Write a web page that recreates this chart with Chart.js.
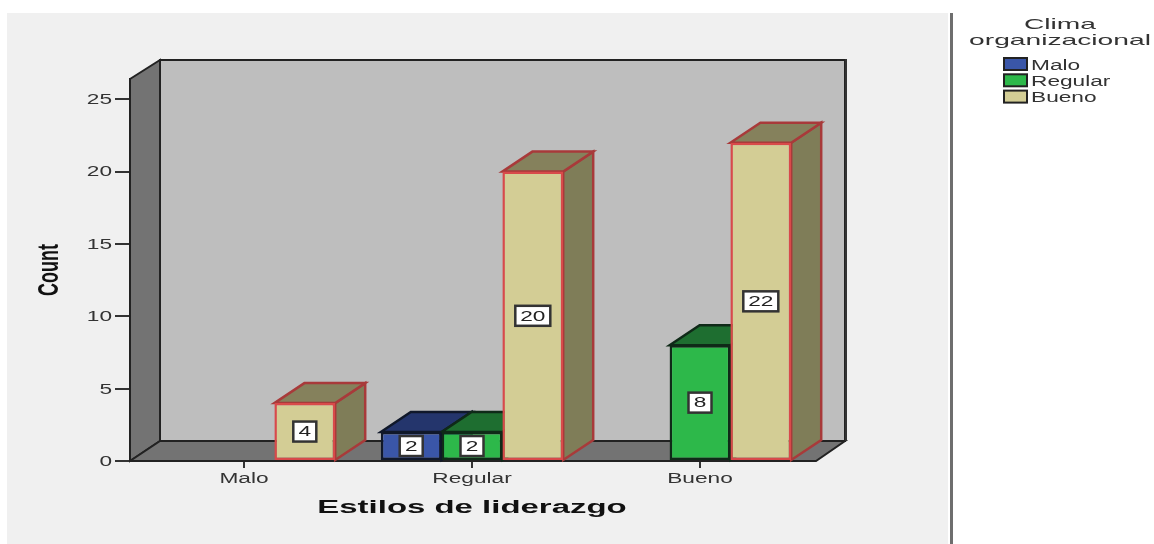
<!DOCTYPE html>
<html>
<head>
<meta charset="utf-8">
<style>html,body{margin:0;padding:0;background:#fff}canvas{display:block}</style>
<script src="https://cdn.jsdelivr.net/npm/chart.js@4/dist/chart.umd.min.js"></script>
</head>
<body>
<canvas id="c" width="1154" height="544"></canvas>
<script>
const categories = ["Malo", "Regular", "Bueno"];
const seriesNames = ["Malo", "Regular", "Bueno"];
const malo = [null, 2, null];
const regular = [null, 2, 8];
const bueno = [4, 20, 22];
const yTitle = "Count";
const xTitle = "Estilos de liderazgo";
const legendTitle = ["Clima", "organizacional"];

const FONT = '"Liberation Sans"';
const front = ["#3a56a8", "#2db84a", "#d3cd95"];
const topFace = ["#24356c", "#1e6e30", "#85815c"];
const sideFace = ["#24356c", "#1e6e30", "#7f7d58"];
const edgeFront = ["#10182a", "#0f2a18", "#d84a4a"];
const edgeBack = ["#10182a", "#0f2a18", "#a83a3a"];
const DX = 30, DY = 20;
// horizontal stretch per font size: the reference text is widened
const STRETCH = {14: 1.62, 15: 1.88, 18: 1.83, 30: 0.6};

function poly(ctx, pts, fill, stroke, lw) {
  ctx.beginPath();
  pts.forEach((p, i) => i ? ctx.lineTo(p[0], p[1]) : ctx.moveTo(p[0], p[1]));
  ctx.closePath();
  if (fill) { ctx.fillStyle = fill; ctx.fill(); }
  if (stroke) { ctx.strokeStyle = stroke; ctx.lineWidth = lw || 2; ctx.lineJoin = "miter"; ctx.stroke(); }
}

const scene = {
  id: "scene",
  beforeInit(chart) {
    const ctx = chart.ctx, orig = ctx.fillText.bind(ctx);
    ctx.fillText = function (t, x, y, m) {
      const size = parseInt((ctx.font.match(/(\d+)px/) || [])[1]);
      const s = STRETCH[size];
      if (!s) return orig(t, x, y, m);
      ctx.save(); ctx.translate(x, y + (size === 30 ? 0 : 1)); ctx.scale(s, 1); orig(t, 0, 0); ctx.restore();
    };
  },
  beforeDraw(chart) {
    const ctx = chart.ctx, a = chart.chartArea;
    ctx.save();
    ctx.fillStyle = "#f0f0f0"; ctx.fillRect(7, 13, 941, 531);
    ctx.fillStyle = "#6e6e6e"; ctx.fillRect(950, 13, 3, 531);
    const L = a.left, R = a.right + 2, T = a.top, B = a.bottom;
    poly(ctx, [[L + DX, T - DY + 1], [R + DX - 1, T - DY + 1], [R + DX - 1, B - DY], [L + DX, B - DY]], "#bebebe", "#222", 2);
    poly(ctx, [[L, T], [L + DX, T - DY + 1], [L + DX, B - DY], [L, B]], "#737373", "#222", 2);
    poly(ctx, [[L, B], [L + DX, B - DY], [R + DX - 1, B - DY], [R, B]], "#737373", "#222", 2);
    ctx.fillStyle = "#333"; ctx.fillRect(R + DX - 1, T - DY, 2, B - T);
    ctx.restore();
  },
  beforeDatasetsDraw(chart) {
    const ctx = chart.ctx;
    ctx.save();
    chart.data.datasets.forEach((ds, i) => {
      chart.getDatasetMeta(i).data.forEach((el, j) => {
        if (ds.data[j] == null) return;
        const l = el.x - el.width / 2, r = el.x + el.width / 2, t = el.y, b = el.base;
        poly(ctx, [[r, t], [r + DX, t - DY], [r + DX, b - DY], [r, b]], sideFace[i], edgeBack[i], 2.5);
        poly(ctx, [[l, t], [l + DX, t - DY], [r + DX, t - DY], [r, t]], topFace[i], edgeBack[i], 2.5);
      });
    });
    ctx.restore();
  },
  afterDatasetsDraw(chart) {
    const ctx = chart.ctx;
    ctx.save();
    chart.data.datasets.forEach((ds, i) => {
      chart.getDatasetMeta(i).data.forEach((el, j) => {
        const v = ds.data[j];
        if (v == null) return;
        const txt = String(v), w = txt.length > 1 ? 35 : 23, h = 20;
        const cy = (el.y + el.base) / 2;
        ctx.fillStyle = "#fff"; ctx.strokeStyle = "#333"; ctx.lineWidth = 2.5;
        ctx.fillRect(el.x - w / 2, cy - h / 2, w, h);
        ctx.strokeRect(el.x - w / 2, cy - h / 2, w, h);
        ctx.fillStyle = "#222"; ctx.font = "14px " + FONT;
        ctx.textAlign = "center"; ctx.textBaseline = "middle";
        ctx.fillText(txt, el.x, cy);
      });
    });
    // legend
    ctx.fillStyle = "#333"; ctx.textBaseline = "middle";
    ctx.font = "15px " + FONT; ctx.textAlign = "center";
    legendTitle.forEach((t, k) => ctx.fillText(t, 1060, 24 + k * 16));
    ctx.font = "14px " + FONT; ctx.textAlign = "left";
    seriesNames.forEach((n, k) => {
      const y = 58 + k * 16.3;
      ctx.fillStyle = front[k]; ctx.fillRect(1004, y, 23, 12);
      ctx.strokeStyle = "#222"; ctx.lineWidth = 2; ctx.strokeRect(1004, y, 23, 12);
      ctx.fillStyle = "#333"; ctx.fillText(n, 1031, y + 7);
    });
    ctx.restore();
  }
};

const datasets = [malo, regular, bueno].map((d, i) => ({
  label: seriesNames[i], data: d,
  backgroundColor: front[i], borderColor: edgeFront[i], borderWidth: 2.5, borderSkipped: false
}));

new Chart(document.getElementById("c"), {
  type: "bar",
  data: {labels: categories, datasets},
  plugins: [scene],
  options: {
    responsive: false, animation: false, events: [],
    layout: {padding: {left: 0, right: 340, top: 79, bottom: 0}},
    categoryPercentage: 0.8, barPercentage: 1,
    plugins: {legend: {display: false}, tooltip: {enabled: false}, title: {display: false}},
    scales: {
      x: {
        offset: true,
        afterFit(s) { s.height = 83; },
        grid: {offset: false, drawOnChartArea: false, tickLength: 7, color: "#333", lineWidth: 2},
        border: {color: "#222", width: 2},
        ticks: {color: "#333", padding: 2, maxRotation: 0, font: {family: FONT, size: 14}},
        title: {display: true, text: xTitle, color: "#111", font: {family: FONT, size: 18, weight: "bold"}, padding: {top: 0, bottom: 26}}
      },
      y: {
        min: 0, max: 26.4,
        afterFit(s) { s.width = 130; },
        grid: {drawOnChartArea: false, tickLength: 15, color: "#333", lineWidth: 2},
        border: {color: "#222", width: 2},
        ticks: {stepSize: 5, includeBounds: false, color: "#333", padding: 3, font: {family: FONT, size: 14}},
        title: {display: true, text: yTitle, color: "#111", font: {family: FONT, size: 30, weight: "bold"}, padding: {top: 32, bottom: 0}}
      }
    }
  }
});
</script>
</body>
</html>
